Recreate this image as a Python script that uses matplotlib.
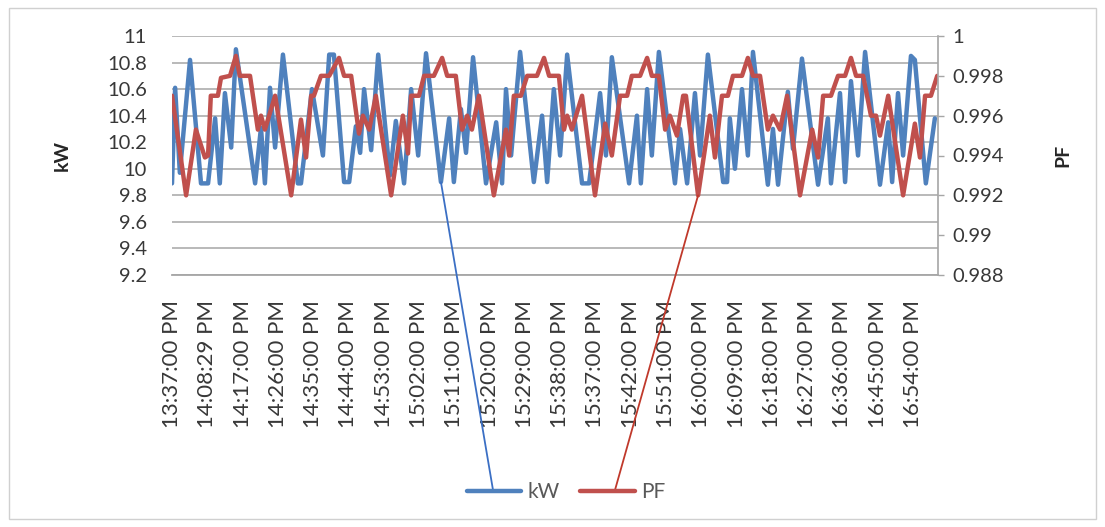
import matplotlib
matplotlib.use("Agg")
import matplotlib.pyplot as plt
from matplotlib.patches import ConnectionPatch, Rectangle

plt.rcParams['font.family'] = ['Lato', 'DejaVu Sans']

# ---------------- data (minute offset from start, value) ----------------
time_labels = ["13:37:00 PM", "14:08:29 PM", "14:17:00 PM", "14:26:00 PM", "14:35:00 PM",
               "14:44:00 PM", "14:53:00 PM", "15:02:00 PM", "15:11:00 PM", "15:20:00 PM",
               "15:29:00 PM", "15:38:00 PM", "15:37:00 PM", "15:42:00 PM", "15:51:00 PM",
               "16:00:00 PM", "16:09:00 PM", "16:18:00 PM", "16:27:00 PM", "16:36:00 PM",
               "16:45:00 PM", "16:54:00 PM"]
label_step = 9

kw_x = [0.0, 0.8, 2.0, 4.6, 7.4, 9.2, 11.0, 12.2, 13.5, 15.1, 16.3, 21.2, 22.7, 23.7, 25.0,
        26.3, 28.3, 32.1, 32.9, 35.7, 38.5, 40.1, 41.3, 43.9, 45.2, 46.9, 48.0, 49.0, 50.8,
        52.6, 55.6, 57.1, 59.2, 61.0, 62.8, 64.8, 68.6, 70.7, 71.9, 73.7, 75.0, 76.8, 80.1,
        82.7, 84.2, 85.2, 86.5, 88.8, 92.3, 94.4, 95.7, 97.4, 99.0, 100.8, 104.6, 106.4,
        109.2, 110.7, 112.2, 116.6, 118.6, 119.6, 121.2, 122.4, 124.2, 128.3, 129.6, 131.4,
        133.4, 134.7, 136.7, 140.6, 141.6, 142.3, 143.6, 145.4, 146.9, 148.2, 152.0, 153.3,
        154.6, 157.1, 158.4, 160.7, 164.8, 167.3, 168.1, 170.4, 171.7, 173.2, 175.0, 176.8,
        180.6, 182.7, 183.7, 185.2, 186.5, 188.5, 189.5, 192.3, 194.6]
kw_y = [9.89, 10.61, 9.97, 10.82, 9.89, 9.89, 10.38, 9.89, 10.57, 10.16, 10.90, 9.89, 10.31,
        9.89, 10.61, 10.16, 10.86, 9.89, 9.89, 10.60, 10.10, 10.86, 10.86, 9.90, 9.90, 10.32,
        10.12, 10.60, 10.14, 10.86, 9.95, 10.36, 9.89, 10.60, 10.10, 10.87, 9.90, 10.38, 9.90,
        10.45, 10.12, 10.84, 9.89, 10.35, 9.89, 10.60, 10.10, 10.88, 9.90, 10.40, 9.90, 10.60,
        10.10, 10.86, 9.89, 9.89, 10.57, 10.10, 10.84, 9.89, 10.40, 9.89, 10.60, 10.10, 10.88,
        9.89, 10.30, 9.89, 10.57, 10.10, 10.86, 9.90, 9.90, 10.38, 10.00, 10.60, 10.10, 10.88,
        9.88, 10.30, 9.88, 10.58, 10.15, 10.83, 9.88, 10.38, 9.89, 10.57, 9.90, 10.66, 10.10,
        10.88, 9.88, 10.35, 9.90, 10.57, 10.10, 10.85, 10.82, 9.89, 10.38]

pf_x = [0.0, 3.6, 6.1, 8.4, 9.2, 9.9, 11.7, 12.5, 14.8, 16.3, 17.3, 19.9, 21.9, 22.7, 23.7,
        26.3, 30.4, 32.9, 34.2, 35.5, 36.2, 38.0, 40.1, 42.6, 43.9, 45.7, 47.7, 48.7, 50.3,
        52.0, 55.9, 58.9, 60.2, 61.0, 63.0, 64.3, 66.8, 68.9, 70.2, 72.4, 74.0, 75.3, 76.5,
        78.3, 82.1, 85.2, 86.0, 87.2, 89.0, 90.6, 93.1, 94.9, 96.2, 98.7, 100.0, 100.8, 102.0,
        104.6, 107.9, 110.5, 112.2, 114.3, 116.1, 117.3, 119.4, 121.2, 122.4, 124.2, 125.8,
        127.0, 128.8, 130.4, 131.1, 134.2, 137.2, 138.5, 140.3, 141.8, 143.1, 145.4, 146.9,
        148.2, 150.0, 152.0, 153.3, 155.1, 156.9, 160.2, 163.3, 164.8, 166.1, 168.1, 169.9,
        171.7, 173.2, 174.5, 176.3, 178.3, 179.6, 180.6, 182.7, 186.5, 189.5, 190.8, 192.1,
        193.6, 195.2]
pf_y = [0.9970, 0.9920, 0.9953, 0.9939, 0.9940, 0.9970, 0.9970, 0.9979, 0.9980, 0.9990,
        0.9980, 0.9980, 0.9953, 0.9960, 0.9953, 0.9970, 0.9920, 0.9958, 0.9939, 0.9970,
        0.9970, 0.9980, 0.9980, 0.9989, 0.9980, 0.9980, 0.9951, 0.9960, 0.9953, 0.9970,
        0.9920, 0.9960, 0.9941, 0.9970, 0.9970, 0.9980, 0.9980, 0.9989, 0.9980, 0.9980,
        0.9953, 0.9960, 0.9953, 0.9970, 0.9920, 0.9953, 0.9940, 0.9970, 0.9970, 0.9980,
        0.9980, 0.9989, 0.9980, 0.9980, 0.9953, 0.9960, 0.9953, 0.9970, 0.9920, 0.9956,
        0.9940, 0.9970, 0.9970, 0.9980, 0.9980, 0.9989, 0.9980, 0.9980, 0.9953, 0.9960,
        0.9950, 0.9970, 0.9970, 0.9920, 0.9960, 0.9939, 0.9970, 0.9970, 0.9980, 0.9980,
        0.9989, 0.9980, 0.9980, 0.9953, 0.9960, 0.9953, 0.9970, 0.9920, 0.9953, 0.9939,
        0.9970, 0.9970, 0.9980, 0.9980, 0.9989, 0.9980, 0.9980, 0.9960, 0.9960, 0.9950,
        0.9970, 0.9920, 0.9956, 0.9939, 0.9970, 0.9970, 0.9980]

kw_ticks = [9.2, 9.4, 9.6, 9.8, 10, 10.2, 10.4, 10.6, 10.8, 11]
kw_tick_labels = ["9.2", "9.4", "9.6", "9.8", "10", "10.2", "10.4", "10.6", "10.8", "11"]
pf_ticks = [0.988, 0.99, 0.992, 0.994, 0.996, 0.998, 1.0]
pf_tick_labels = ["0.988", "0.99", "0.992", "0.994", "0.996", "0.998", "1"]

# leader lines from legend to these data vertices (index in series)
kw_lead_idx = 36
pf_lead_idx = 73

# ---------------- figure ----------------
W, H = 1105, 527
fig = plt.figure(figsize=(W / 100, H / 100), dpi=100)
fig.patch.set_facecolor('white')
fig.patches.append(Rectangle((9 / W, 8 / H), (1096 - 9) / W, (519 - 8) / H,
                             transform=fig.transFigure, fill=False,
                             ec='#d0d0d0', lw=1.0))

ax = fig.add_axes([172 / W, 1 - 275 / H, (938 - 172) / W, (275 - 36) / H])
ax2 = ax.twinx()

blue = '#4F81BD'
red = '#C0504D'
tick_col = '#383838'
grid_col = '#a6a6a6'

l1, = ax.plot(kw_x, kw_y, color=blue, lw=3.2, solid_joinstyle='round',
              solid_capstyle='round', label='kW')
l2, = ax2.plot(pf_x, pf_y, color=red, lw=3.2, solid_joinstyle='round',
               solid_capstyle='round', label='PF')

ax.set_xlim(0, max(kw_x[-1], pf_x[-1]) + 0.2)
ax.set_ylim(kw_ticks[0], kw_ticks[-1])
ax2.set_ylim(pf_ticks[0], pf_ticks[-1])

ax.set_yticks(kw_ticks)
ax.set_yticklabels(kw_tick_labels)
ax2.set_yticks(pf_ticks)
ax2.set_yticklabels(pf_tick_labels)

xt = [i * label_step for i in range(len(time_labels))]
ax.set_xticks(xt)
ax.set_xticklabels(time_labels, rotation=90)

ax.yaxis.grid(True, color=grid_col, lw=1.1)
ax.set_axisbelow(True)

for a in (ax, ax2):
    for s in ('left', 'top'):
        a.spines[s].set_visible(False)
ax.spines['right'].set_visible(False)
ax2.spines['bottom'].set_visible(False)
ax.spines['bottom'].set_color(grid_col)
ax.spines['bottom'].set_linewidth(1.3)
ax2.spines['right'].set_color(grid_col)
ax2.spines['right'].set_linewidth(1.2)

ax.tick_params(axis='y', length=0, pad=18, labelsize=14.5, labelcolor=tick_col)
ax.tick_params(axis='x', length=0, pad=18, labelsize=16, labelcolor=tick_col)
ax2.tick_params(axis='y', length=4, width=1, color=grid_col, pad=6, labelsize=14.5,
                labelcolor=tick_col)

fig.text(62 / W, 1 - 155 / H, 'kW', rotation=90, ha='center', va='center',
         fontsize=14, fontweight='bold', color='#262626')
fig.text(1063 / W, 1 - 155 / H, 'PF', rotation=90, ha='center', va='center',
         fontsize=14, fontweight='bold', color='#262626')

fig.legend([l1, l2], ['kW', 'PF'], loc='center', bbox_to_anchor=(566 / W, 1 - 492 / H),
           ncol=2, frameon=False, handlelength=2.6, handletextpad=0.3,
           columnspacing=1.0, fontsize=15, labelcolor='#595959')

# leader lines
cp1 = ConnectionPatch(xyA=(493 / W, 1 - 490 / H), coordsA='figure fraction',
                      xyB=(kw_x[kw_lead_idx], kw_y[kw_lead_idx]), coordsB=ax.transData,
                      color='#3b6fc4', lw=1.3)
cp2 = ConnectionPatch(xyA=(615 / W, 1 - 490 / H), coordsA='figure fraction',
                      xyB=(pf_x[pf_lead_idx], pf_y[pf_lead_idx]), coordsB=ax2.transData,
                      color='#c0392b', lw=1.3)
fig.add_artist(cp1)
fig.add_artist(cp2)

fig.savefig('out.png', dpi=100)
